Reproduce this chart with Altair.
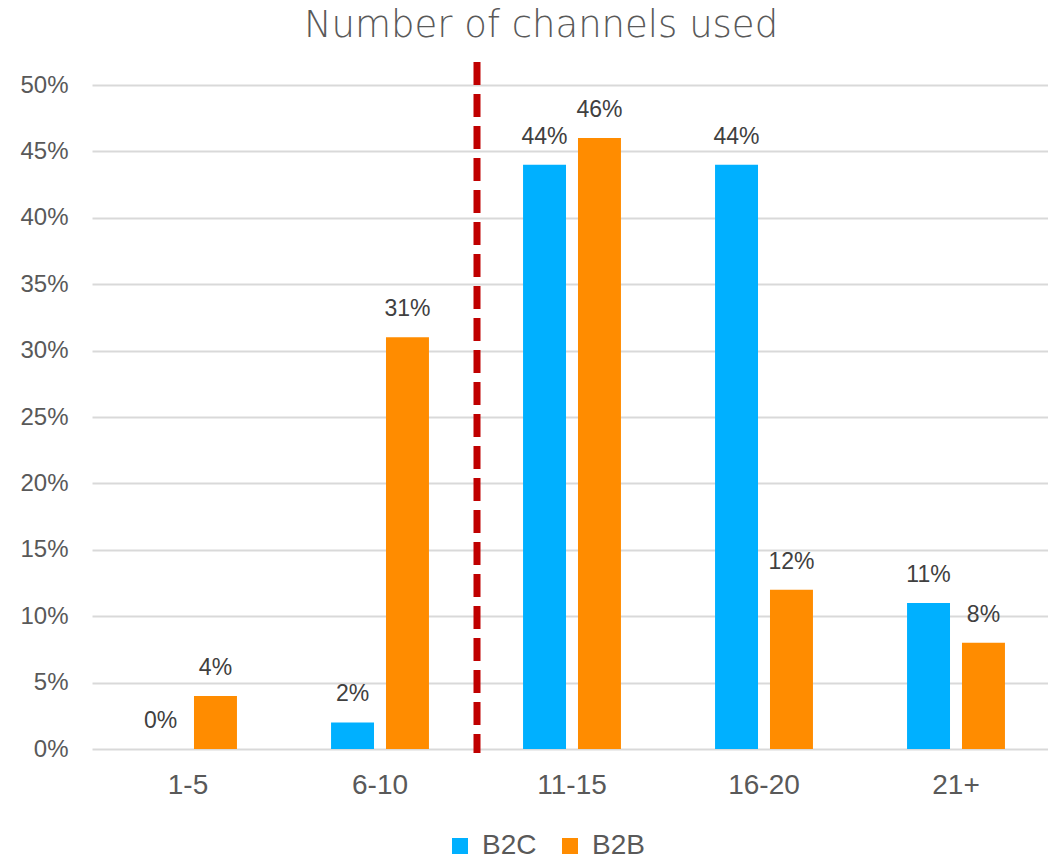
import altair as alt
import pandas as pd

categories = ["1-5", "6-10", "11-15", "16-20", "21+"]
series = ["B2C", "B2B"]
b2c = [0, 2, 44, 44, 11]
b2b = [4, 31, 46, 12, 8]
y_ticks = [0, 5, 10, 15, 20, 25, 30, 35, 40, 45, 50]
title_text = "Number of channels used"

rows = []
for c, v in zip(categories, b2c):
    rows.append({"cat": c, "series": "B2C", "value": v})
for c, v in zip(categories, b2b):
    rows.append({"cat": c, "series": "B2B", "value": v})
df = pd.DataFrame(rows)

TXT = "#595959"
FONT = "Liberation Sans"

x_enc = alt.X("cat:N", sort=categories,
              scale=alt.Scale(domain=categories, range=[0, 960], paddingInner=0.49, paddingOuter=0.245),
              axis=alt.Axis(title=None, labelAngle=0, labelFontSize=28, labelColor=TXT, labelFont=FONT,
                            domain=False, ticks=False, labelPadding=22, grid=False))
y_enc = alt.Y("value:Q", scale=alt.Scale(domain=[0, 50], nice=False),
              axis=alt.Axis(title=None, values=y_ticks, labelExpr="datum.value + '%'",
                            labelFontSize=24, labelColor=TXT, labelFont=FONT, domain=False,
                            ticks=False, tickSize=0, labelPadding=24, gridColor="#d9d9d9",
                            gridWidth=2))
xoff = alt.XOffset("series:N", sort=series,
                   scale=alt.Scale(domain=series, paddingInner=0.218, paddingOuter=0))
color = alt.Color("series:N", sort=series,
                  scale=alt.Scale(domain=series, range=["#00B0FF", "#FF8C00"]),
                  legend=alt.Legend(title=None, orient="none", legendX=354, legendY=747,
                                    direction="horizontal", symbolType="square", symbolSize=256,
                                    symbolStrokeWidth=0, labelFontSize=28, labelFont=FONT,
                                    labelColor=TXT, columnPadding=19, labelOffset=8))

base = alt.Chart(df)
bars = base.mark_bar().encode(x=x_enc, y=y_enc, xOffset=xoff, color=color)
labels = base.transform_calculate(lbl="datum.value + '%'").mark_text(
    fontSize=23, font=FONT, color="#404040", dy=-21, baseline="alphabetic"
).encode(x=x_enc, y=y_enc, xOffset=xoff, text="lbl:N")

rule = alt.Chart(pd.DataFrame({"k": [1]})).mark_rule(
    color="#C00000", strokeWidth=7, strokeDash=[23, 9]
).encode(x=alt.value(385), y=alt.value(-23), y2=alt.value(668))

title = alt.Chart(pd.DataFrame({"t": [title_text]})).mark_text(
    fontSize=37, font="DejaVu Sans", fontWeight=200, color=TXT, align="center",
    baseline="alphabetic"
).encode(x=alt.value(449), y=alt.value(-48), text="t:N")

chart = alt.layer(bars, labels, rule, title).properties(
    width=956, height=664,
    autosize=alt.AutoSizeParams(type="none"),
    padding={"left": 92, "top": 85, "right": 0, "bottom": 112},
).configure_view(stroke=None)

chart.save("out.html", embed_options={"renderer": "svg", "actions": False})
